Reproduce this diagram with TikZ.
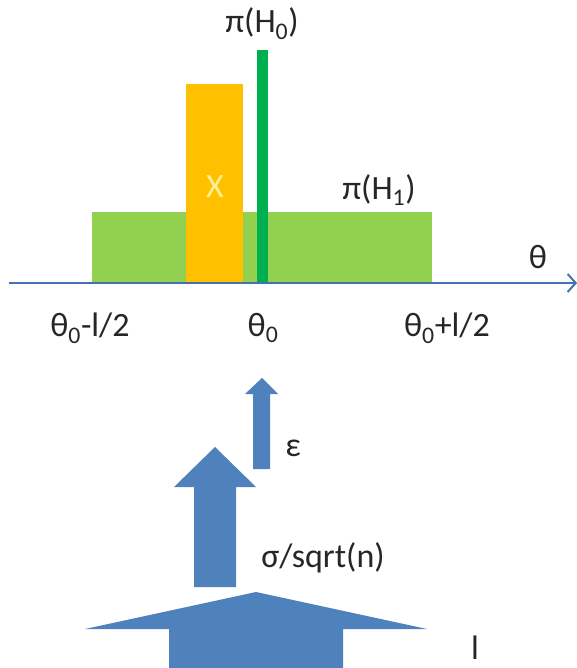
\documentclass[tikz,border=0pt]{standalone}
\usepackage{fontspec}
\setmainfont{Carlito}
\usetikzlibrary{arrows.meta}
\definecolor{axisblue}{RGB}{68,114,176}
\definecolor{arrowblue}{RGB}{79,129,189}
\definecolor{limegreen}{RGB}{146,208,80}
\definecolor{amber}{RGB}{255,192,0}
\definecolor{darkgreen}{RGB}{0,176,80}
\definecolor{paleyellow}{RGB}{255,240,150}
\definecolor{textgray}{RGB}{38,38,38}
\tikzset{
  lbl/.style={font=\fontsize{34}{40}\selectfont,text=textgray,inner sep=0pt},
  bar/.style={draw=none,inner sep=0pt,outer sep=0pt,anchor=south west},
  blockarrow/.style={fill=arrowblue,draw=none},
  axis/.style={draw=axisblue,line width=2.5pt,-{Straight Barb[length=8pt,width=18pt,line width=2pt]}},
}

\begin{document}
\begin{tikzpicture}[x=1pt,y=-1pt]
  \fill[white] (0,0) rectangle (577,668);
  \useasboundingbox (0,0) rectangle (577,668);

  % priors and observation
  \node[bar,fill=limegreen,minimum width=340pt,minimum height=71pt] (h1bar) at (92,283) {};
  \node[bar,fill=amber,minimum width=57pt,minimum height=199pt] (xbar) at (186,283) {};
  \node[bar,fill=darkgreen,minimum width=11pt,minimum height=233pt] (h0bar) at (257,283) {};

  % parameter axis
  \coordinate (axl) at (9,283);
  \coordinate (axr) at (577,283);
  \draw[axis] (axl) -- (axr);

  \node[lbl] (pih0) at (262,24) {π(H\textsubscript{0})};
  \node[lbl] (pih1) at (379,190) {π(H\textsubscript{1})};
  \node[lbl,text=paleyellow] (xlbl) at (215,187) {X};
  \node[lbl] (thlbl) at (538,257) {θ};
  \node[lbl] (lo) at (90,328) {θ\textsubscript{0}-l/2};
  \node[lbl] (mid) at (263,328) {θ\textsubscript{0}};
  \node[lbl] (hi) at (447,328) {θ\textsubscript{0}+l/2};

  % block arrows
  \fill[blockarrow] (253,469) -- (253,394) -- (245,394) -- (262,378)
    -- (278,394) -- (270,394) -- (270,469) -- cycle;
  \fill[blockarrow] (194,587) -- (194,487) -- (174,487) -- (215,447)
    -- (256,487) -- (236,487) -- (236,587) -- cycle;
  \fill[blockarrow] (169,668) -- (169,629) -- (85,629) -- (256,592)
    -- (427,629) -- (343,629) -- (343,668) -- cycle;

  \node[lbl] (eps) at (293,448) {ε};
  \node[lbl] (sig) at (323,558) {σ/sqrt(n)};
  \node[lbl] (len) at (475,648) {l};
\end{tikzpicture}
\end{document}
